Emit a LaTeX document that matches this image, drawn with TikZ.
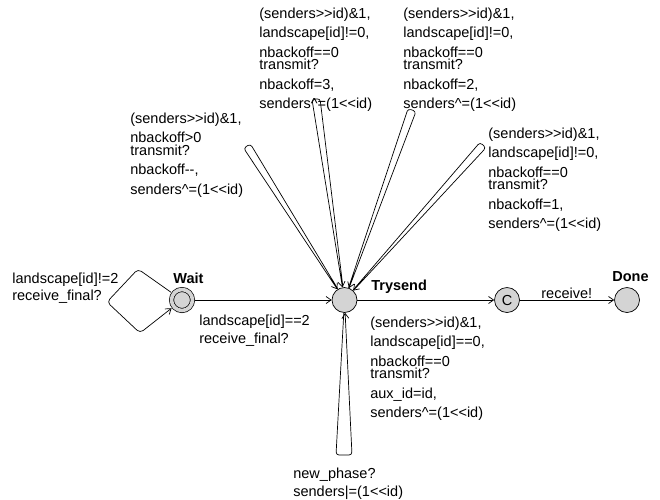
\documentclass[tikz,border=0pt]{standalone}
\usepackage{fontspec}
\setmainfont{Liberation Sans}[Ligatures=TeXOff]
\usetikzlibrary{automata, arrows.meta, positioning}
\definecolor{locfill}{HTML}{D4D4D4}

\begin{document}
\begin{tikzpicture}[x=1pt, y=1pt, line width=0.7pt, >={Straight Barb[length=5pt,width=7pt]},
        every state/.style={draw, line width=0.7pt, fill=locfill, minimum size=25pt, inner sep=0pt,
            font=\fontsize{14.5}{17}\selectfont},
        initloc/.style={minimum size=21pt, double=locfill, double distance=3.6pt, outer sep=2.8pt},
        locname/.style={anchor=north west, inner sep=0pt, font=\fontsize{14.5}{17}\selectfont\bfseries},
        lbl/.style={anchor=north west, inner sep=0pt, align=left, font=\fontsize{14.5}{19.5}\selectfont}]
        \useasboundingbox (0,0) rectangle (660,-499);
        % locations
        \node[state, initloc] (Wait) at (182,-300) {};
        \node[state] (Trysend) at (344.5,-300) {};
        \node[state] (Commit) at (507,-300) {C};
        \node[state] (Done) at (627,-300) {};
        \node[locname] (waitname) at (173,-272.8) {Wait};
        \node[locname] (trysendname) at (371,-279.8) {Trysend};
        \node[locname] (donename) at (612,-271) {Done};
        % edges
        \draw[->] (Wait) -- (Trysend);
        \draw[->] (Trysend) -- (Commit);
        \draw[->] (Commit) -- (Done);
        \draw[->, rounded corners=4pt] (Wait) -- (138,-269) -- (107,-302) -- (140,-333) -- (Wait);
        \draw[->, rounded corners=3pt] (Trysend) -- (250.4,-143.9) -- (243.6,-148.1) -- (Trysend);
        \draw[->, rounded corners=3pt] (Trysend) -- (320,-98.5) -- (312,-99.5) -- (Trysend);
        \draw[->, rounded corners=3pt] (Trysend) -- (408,-108.6) -- (416,-111.4) -- (Trysend);
        \draw[->, rounded corners=3pt] (Trysend) -- (480,-142.3) -- (486,-147.7) -- (Trysend);
        \draw[->, rounded corners=3pt] (Trysend) -- (336,-455) -- (352,-455) -- (Trysend);
        % labels
        \node[lbl] (waitloop) at (12,-272.5) {landscape[id]!=2\\[-2.5pt]receive\_final?};
        \node[lbl] (final) at (199,-314.5) {landscape[id]==2\\[-1.5pt]receive\_final?};
        \node[lbl] (backoff) at (130,-112.5) {(senders>>id)\&1,\\nbackoff>0\\[-7pt]transmit?\\nbackoff--,\\senders\textasciicircum=(1<<id)};
        \node[lbl] (backthree) at (259,-7.5) {(senders>>id)\&1,\\landscape[id]!=0,\\nbackoff==0\\[-7pt]transmit?\\nbackoff=3,\\senders\textasciicircum=(1<<id)};
        \node[lbl] (backtwo) at (403,-7.5) {(senders>>id)\&1,\\landscape[id]!=0,\\nbackoff==0\\[-7pt]transmit?\\nbackoff=2,\\senders\textasciicircum=(1<<id)};
        \node[lbl] (backone) at (488,-127.5) {(senders>>id)\&1,\\landscape[id]!=0,\\nbackoff==0\\[-7pt]transmit?\\nbackoff=1,\\senders\textasciicircum=(1<<id)};
        \node[lbl] (send) at (370,-316.5) {(senders>>id)\&1,\\landscape[id]==0,\\nbackoff==0\\[-7pt]transmit?\\aux\_id=id,\\senders\textasciicircum=(1<<id)};
        \node[lbl] (phase) at (293,-467.5) {new\_phase?\\[-1.5pt]senders\textbar=(1<<id)};
        \node[lbl] (recv) at (541,-287.5) {receive!};
    \end{tikzpicture}
\end{document}
